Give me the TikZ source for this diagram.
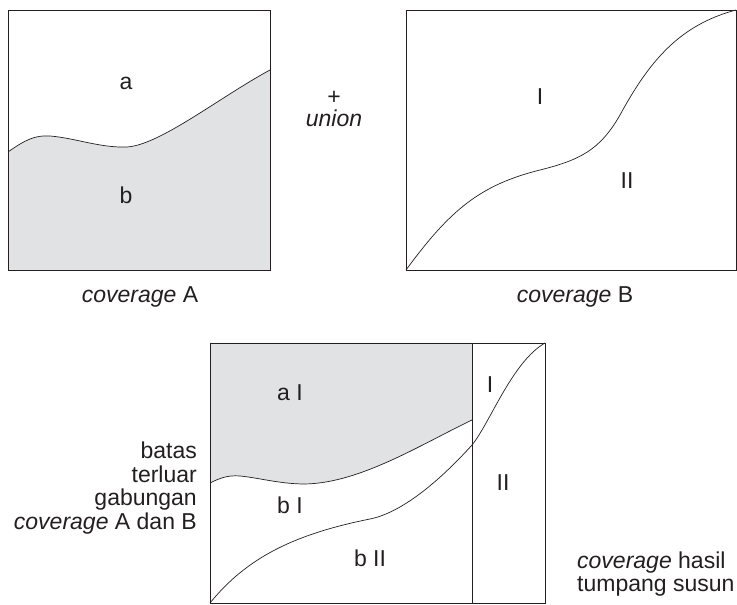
\documentclass[tikz,border=0pt]{standalone}
\usepackage{fontspec}
\setmainfont{Liberation Sans}
\definecolor{areagray}{RGB}{225,226,228}
\definecolor{ink}{RGB}{35,31,32}

\begin{document}
\begin{tikzpicture}[x=1pt, y=1pt,
  every node/.style={font=\fontsize{23}{23.5}\selectfont, text=ink, inner sep=0pt},
  frame/.style={draw=ink, line width=0.9pt},
  edge/.style={draw=ink, line width=0.7pt}]
  \useasboundingbox (0,0) rectangle (737,605);

  % coverage A
  \fill[areagray] (8,453) .. controls (25,465) and (35,470) .. (50,469)
    .. controls (75,467) and (100,457) .. (127,458)
    .. controls (160,460) and (220,508) .. (270,535) -- (270,335) -- (8,335) -- cycle;
  \draw[edge] (8,453) .. controls (25,465) and (35,470) .. (50,469)
    .. controls (75,467) and (100,457) .. (127,458)
    .. controls (160,460) and (220,508) .. (270,535);
  \draw[frame] (8,335) rectangle (270,595);
  \node (a) at (126,522) {a};
  \node (b) at (126,410) {b};
  \node (covA) at (140,308) {\textit{coverage} A};

  % union
  \node (plus) at (334,507) {+};
  \node (union) at (334,487) {\textit{union}};

  % coverage B
  \draw[edge] (406,335) .. controls (450,395) and (480,420) .. (540,435)
    .. controls (580,445) and (600,455) .. (620,490)
    .. controls (650,545) and (680,580) .. (736,595);
  \draw[frame] (406,335) rectangle (736,595);
  \node (I) at (540,508) {I};
  \node (II) at (627,424) {II};
  \node (covB) at (575,308) {\textit{coverage} B};

  % hasil tumpang susun
  \fill[areagray] (210,122) .. controls (220,127) and (228,130) .. (240,129)
    .. controls (260,127) and (280,121) .. (305,121)
    .. controls (360,122) and (420,160) .. (472,185) -- (472,262) -- (210,262) -- cycle;
  \draw[edge] (210,122) .. controls (220,127) and (228,130) .. (240,129)
    .. controls (260,127) and (280,121) .. (305,121)
    .. controls (360,122) and (420,160) .. (472,185);
  \draw[edge] (210,2) .. controls (245,45) and (290,70) .. (370,86)
    .. controls (405,93) and (445,130) .. (472,160)
    .. controls (490,182) and (512,243) .. (545,262);
  \draw[frame] (210,2) rectangle (545,262);
  \draw[frame] (472,2) -- (472,262);
  \node (aI) at (290,212) {a I};
  \node (bI) at (290,100) {b I};
  \node (bII) at (370,47) {b II};
  \node (I2) at (490,220) {I};
  \node (II2) at (503,122) {II};

  \node (batas) [anchor=east, align=right] at (197,117)
    {batas\\terluar\\gabungan\\\textit{coverage} A dan B};
  \node (hasil) [anchor=west, align=left] at (577,31)
    {\textit{coverage} hasil\\tumpang susun};
\end{tikzpicture}
\end{document}
